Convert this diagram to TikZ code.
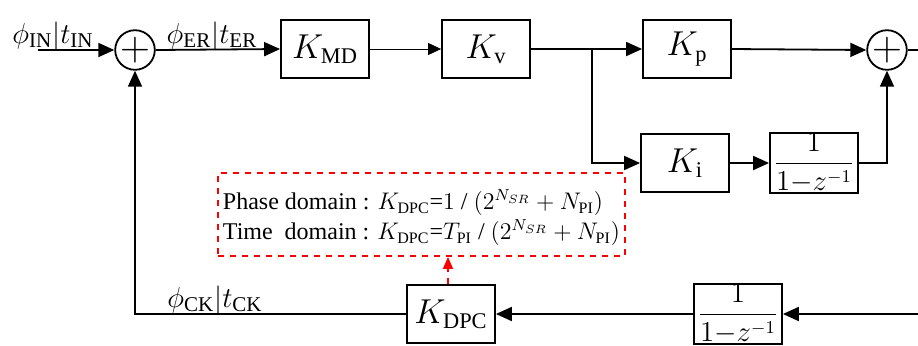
\documentclass[tikz,border=0pt]{standalone}
\usepackage{amsmath}
\usepackage{fontspec}
\setmainfont{Liberation Serif}
\usetikzlibrary{arrows.meta}
\usetikzlibrary{positioning}
\tikzset{blk/.style = {draw, line width=0.9pt, minimum width=44pt, minimum height=29pt, inner sep=0, font=\fontsize{16}{19}\selectfont}}
\tikzset{sum/.style = {draw, circle, line width=0.9pt, minimum size=17pt, inner sep=0, font=\fontsize{20}{20}\selectfont}}
\tikzset{sig/.style = {line width=0.9pt, -{Triangle[length=8pt,width=7pt]}}}
\tikzset{lbl/.style = {font=\fontsize{15}{18}\selectfont, inner sep=0}}
\newcommand{\intgr}{\fontsize{13.5}{15}\selectfont$\dfrac{1}{1{-}z^{-1}}$}

\begin{document}
\begin{tikzpicture}[x=0.5pt,y=-0.5pt]
        \useasboundingbox (0,0) rectangle (918,345);
        % forward path
        \node [sum] (sumA) at (135,50) {$+$};
        \node [blk] (kmd) at (325,49) {$K_{\text{MD}}$};
        \node [blk] (kv) at (486,49) {$K_{\text{v}}$};
        \node [blk] (kp) at (687,49) {$K_{\text{p}}$};
        \node [sum] (sumB) at (887,50) {$+$};
        \node [blk] (ki) at (685,163) {$K_{\text{i}}$};
        \node [blk] (intg) at (814,163) {\intgr};
        % feedback path
        \node [blk] (kdpc) at (451,314) {$K_{\text{DPC}}$};
        \node [blk] (intf) at (738,314) {\intgr};
        \node [draw=red, dashed, line width=0.9pt, minimum width=203.5pt, minimum height=41.5pt, inner sep=0, align=left, font=\fontsize{12}{15}\selectfont] (note) at (421.5,214.5)
            {\rule{0pt}{13pt}Phase domain : $K_{\text{DPC}}$=$1$ / $(2^{N_{SR}}+N_{\text{PI}})$\\
             Time\ \ domain : $K_{\text{DPC}}$=$T_{\text{PI}}$ / $(2^{N_{SR}}+N_{\text{PI}})$};
        \coordinate (in) at (38,50);
        \coordinate (br) at (592,49);
        \coordinate (out) at (918,50);
        \coordinate (fb) at (918,314);
        % connectors
        \draw [sig] (in) -- (sumA.west);
        \draw [sig] (sumA.east) -- (kmd.west);
        \draw [line width=0.5pt, -{Triangle[length=6.5pt,width=6pt]}] (kmd.east) -- (kv.west);
        \draw [sig] (kv.east) -- (br) -- (kp.west);
        \draw [sig] (br) |- (ki.west);
        \draw [sig] (kp.east) -- (sumB.west);
        \draw [sig] (ki.east) -- (intg.west);
        \draw [sig] (intg.east) -| (sumB.south);
        \draw [line width=0.9pt] (sumB.east) -- (out);
        \draw [sig] (fb) -- (intf.east);
        \draw [sig] (intf.west) -- (kdpc.east);
        \draw [sig] (kdpc.west) -| (sumA.south);
        \draw [red, dashed, line width=0.6pt, -{Triangle[length=6pt,width=5pt]}] ([xshift=-1.5pt]kdpc.north) -- ([xshift=-1.5pt]kdpc.north |- note.south);
        % labels
        \node [lbl] (lin) at (53,36) {$\phi_{\text{IN}}|t_{\text{IN}}$};
        \node [lbl] (ler) at (212,36) {$\phi_{\text{ER}}|t_{\text{ER}}$};
        \node [lbl] (lck) at (215,300) {$\phi_{\text{CK}}|t_{\text{CK}}$};
\end{tikzpicture}
\end{document}
